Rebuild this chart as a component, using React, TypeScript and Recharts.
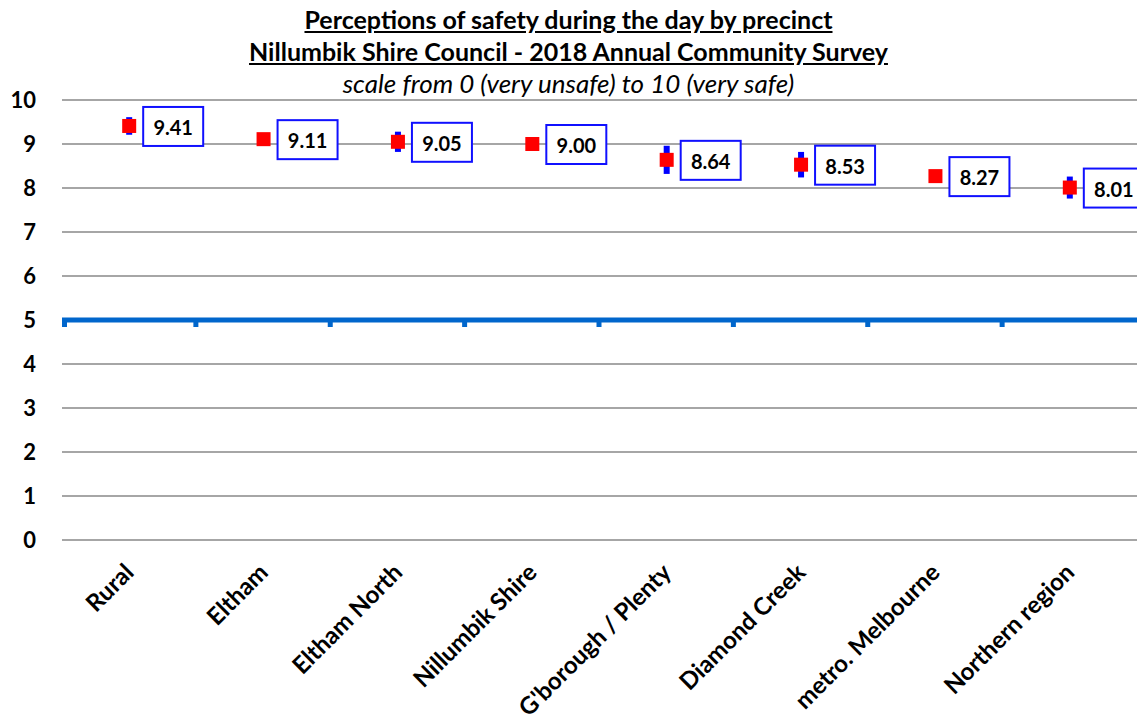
import { ComposedChart, Line, XAxis, YAxis, CartesianGrid, ReferenceLine, ErrorBar, LabelList } from 'recharts';

// Precincts, mean scores and error bar half-widths (95% confidence)
const precincts = ['Rural', 'Eltham', 'Eltham North', 'Nillumbik Shire', "G'borough / Plenty", 'Diamond Creek', 'metro. Melbourne', 'Northern region'];
const scores = [9.41, 9.11, 9.05, 9.0, 8.64, 8.53, 8.27, 8.01];
const errors = [0.2, 0.12, 0.23, 0.08, 0.32, 0.29, 0.05, 0.25];
const yTicks = [0, 1, 2, 3, 4, 5, 6, 7, 8, 9, 10];

const data = precincts.map((name, i) => ({ name, score: scores[i], err: errors[i] }));

const FONT = 'Lato, "Open Sans", sans-serif';
const AXIS_BLUE = '#0066cc';

// x axis label, rotated 45 degrees
const XTick = (props: any) => {
  const { x, y, payload } = props;
  const px = x + 6;
  const py = y + 26;
  return (
    <text x={px} y={py} textAnchor="end" transform={`rotate(-45, ${px}, ${py})`}
      fontFamily={FONT} fontWeight={700} fontSize={24} fill="#000">
      {payload.value}
    </text>
  );
};

// the "5" line acts as the category axis, with ticks between categories
const MidLine = (props: any) => {
  const { x1, x2, y1 } = props;
  const n = precincts.length;
  const step = (x2 - x1) / n;
  return (
    <g>
      <line x1={x1} x2={x2} y1={y1} y2={y1} stroke={AXIS_BLUE} strokeWidth={5} />
      {precincts.map((_, i) => (
        <rect key={i} x={x1 + i * step - (i === 0 ? 0 : 3)} y={y1} width={5} height={7} fill={AXIS_BLUE} />
      ))}
    </g>
  );
};

const Square = (props: any) => {
  const { cx, cy, index } = props;
  if (cx == null || cy == null) return null;
  return <rect key={index} x={cx - 7} y={cy - 7} width={14} height={14} fill="#ff0000" />;
};

const ValueBox = (props: any) => {
  const { x, y, value } = props;
  if (x == null || y == null) return null;
  const bx = x + 14;
  const by = y - 19;
  return (
    <g>
      <rect x={bx} y={by} width={60} height={39} fill="#fff" stroke="#1010ff" strokeWidth={2} />
      <text x={bx + 30} y={by + 20} textAnchor="middle" dominantBaseline="central"
        fontFamily={FONT} fontWeight={700} fontSize={20} fill="#000">
        {Number(value).toFixed(2)}
      </text>
    </g>
  );
};

export default function App() {
  return (
    <div style={{ position: 'absolute', left: 0, top: 0, width: 1137, height: 719, background: '#fff', fontFamily: FONT }}>
      <div style={{ position: 'absolute', left: 0, top: 3, width: 1137, textAlign: 'center', fontSize: 25, lineHeight: '32px', color: '#000' }}>
        <div style={{ fontWeight: 700, textDecoration: 'underline' }}>Perceptions of safety during the day by precinct</div>
        <div style={{ fontWeight: 700, textDecoration: 'underline' }}>Nillumbik Shire Council - 2018 Annual Community Survey</div>
        <div style={{ fontStyle: 'italic', fontSize: 26 }}>scale from 0 (very unsafe) to 10 (very safe)</div>
      </div>
      <ComposedChart width={1137} height={719} data={data} margin={{ top: 100, right: 0, left: 0, bottom: 0 }}
        style={{ position: 'absolute', left: 0, top: 0 }}>
        <CartesianGrid vertical={false} stroke="#a6a6a6" strokeWidth={2} />
        <XAxis dataKey="name" scale="band" interval={0} axisLine={false} tickLine={false} height={179} tick={<XTick />} />
        <YAxis domain={[0, 10]} ticks={yTicks} axisLine={false} tickLine={false} width={62} tickMargin={20}
          tick={{ fontFamily: FONT, fontWeight: 700, fontSize: 22, fill: '#000' }} />
        <ReferenceLine y={5} shape={<MidLine />} />
        <Line dataKey="score" stroke="none" dot={false} activeDot={false} isAnimationActive={false}>
          <ErrorBar dataKey="err" direction="y" width={0} stroke="#0000ff" strokeWidth={6} />
        </Line>
        <Line dataKey="score" stroke="none" dot={<Square />} activeDot={false} isAnimationActive={false}>
          <LabelList dataKey="score" content={<ValueBox />} />
        </Line>
      </ComposedChart>
    </div>
  );
}
